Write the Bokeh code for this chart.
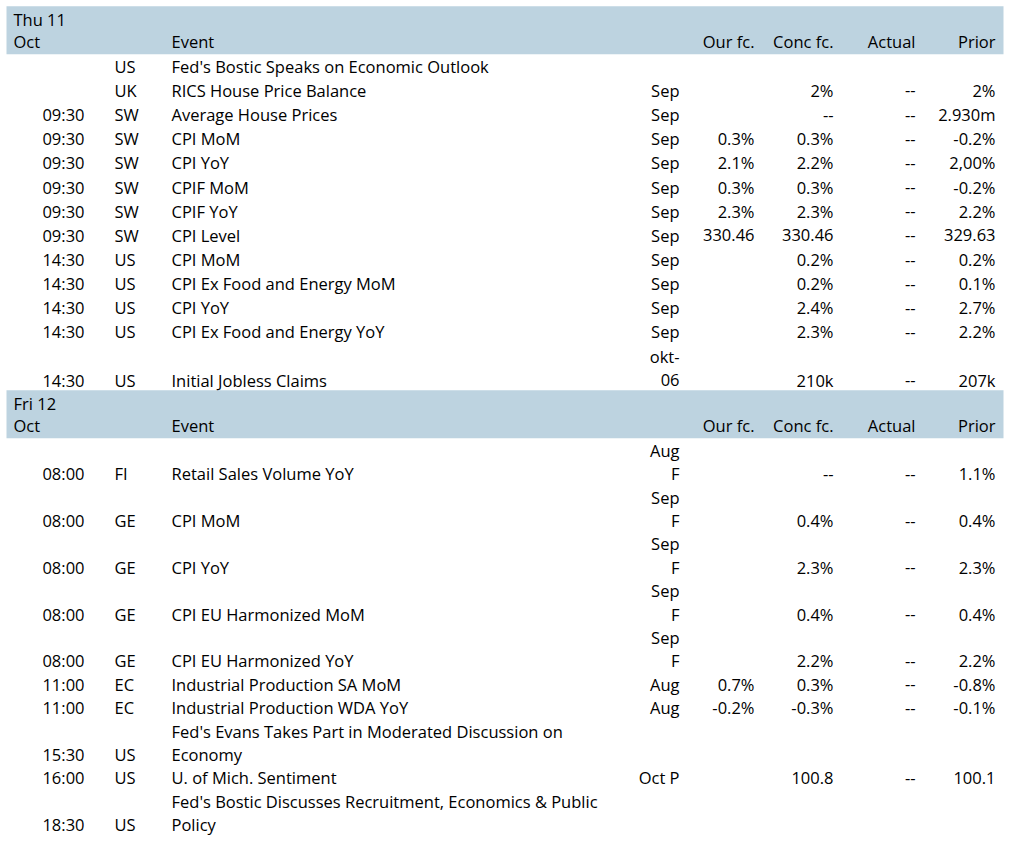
from bokeh.plotting import figure
from bokeh.models import ColumnDataSource, Range1d
from bokeh.embed import file_html
from bokeh.resources import INLINE
from bokeh.core.properties import value

# ---------------- data ----------------
day_labels = ["Thu 11", "Fri 12"]
month_label = "Oct"
header_labels = ["Event", "Our fc.", "Conc fc.", "Actual", "Prior"]

thu_time = ["", "", "09:30", "09:30", "09:30", "09:30", "09:30", "09:30",
            "14:30", "14:30", "14:30", "14:30", "14:30"]
thu_country = ["US", "UK", "SW", "SW", "SW", "SW", "SW", "SW",
               "US", "US", "US", "US", "US"]
thu_event = ["Fed's Bostic Speaks on Economic Outlook", "RICS House Price Balance",
             "Average House Prices", "CPI MoM", "CPI YoY", "CPIF MoM", "CPIF YoY",
             "CPI Level", "CPI MoM", "CPI Ex Food and Energy MoM", "CPI YoY",
             "CPI Ex Food and Energy YoY", "Initial Jobless Claims"]
thu_period = ["", "Sep", "Sep", "Sep", "Sep", "Sep", "Sep", "Sep", "Sep", "Sep",
              "Sep", "Sep", "okt-\n06"]
thu_our = ["", "", "", "0.3%", "2.1%", "0.3%", "2.3%", "330.46", "", "", "", "", ""]
thu_conc = ["", "2%", "--", "0.3%", "2.2%", "0.3%", "2.3%", "330.46", "0.2%",
            "0.2%", "2.4%", "2.3%", "210k"]
thu_actual = ["", "--", "--", "--", "--", "--", "--", "--", "--", "--", "--", "--", "--"]
thu_prior = ["", "2%", "2.930m", "-0.2%", "2,00%", "-0.2%", "2.2%", "329.63",
             "0.2%", "0.1%", "2.7%", "2.2%", "207k"]

fri_time = ["08:00", "08:00", "08:00", "08:00", "08:00", "11:00", "11:00",
            "15:30", "16:00", "18:30"]
fri_country = ["FI", "GE", "GE", "GE", "GE", "EC", "EC", "US", "US", "US"]
fri_event = ["Retail Sales Volume YoY", "CPI MoM", "CPI YoY", "CPI EU Harmonized MoM",
             "CPI EU Harmonized YoY", "Industrial Production SA MoM",
             "Industrial Production WDA YoY",
             "Fed's Evans Takes Part in Moderated Discussion on\nEconomy",
             "U. of Mich. Sentiment",
             "Fed's Bostic Discusses Recruitment, Economics & Public\nPolicy"]
fri_period = ["Aug\nF", "Sep\nF", "Sep\nF", "Sep\nF", "Sep\nF", "Aug", "Aug", "",
              "Oct P", ""]
fri_our = ["", "", "", "", "", "0.7%", "-0.2%", "", "", ""]
fri_conc = ["--", "0.4%", "2.3%", "0.4%", "2.2%", "0.3%", "-0.3%", "", "100.8", ""]
fri_actual = ["--", "--", "--", "--", "--", "--", "--", "", "--", ""]
fri_prior = ["1.1%", "0.4%", "2.3%", "0.4%", "2.2%", "-0.8%", "-0.1%", "", "100.1", ""]

# ---------------- layout ----------------
FONT = "Open Sans"
FSIZE = "16.5px"
BAND = "#BDD3E0"
TXT = "#000000"
W, H = 1006, 835

# column anchors: (x, align)
COLS = [(84, "right"), (114, "left"), (171, "left"), (679, "right"),
        (754, "right"), (833, "right"), (915, "right"), (995, "right")]
HDR_COLS = [COLS[2], COLS[4], COLS[5], COLS[6], COLS[7]]

sections = [
    (day_labels[0], [thu_time, thu_country, thu_event, thu_period, thu_our,
                     thu_conc, thu_actual, thu_prior], 24.15),
    (day_labels[1], [fri_time, fri_country, fri_event, fri_period, fri_our,
                     fri_conc, fri_actual, fri_prior], 23.4),
]

left = dict(x=[], y=[], text=[])
right = dict(x=[], y=[], text=[])
bands = dict(top=[], bottom=[])


def put(x, y, t, align):
    d = left if align == "left" else right
    d["x"].append(x)
    d["y"].append(y)
    d["text"].append(t)


b0 = 19.0
for day, cols, pitch in sections:
    bands["top"].append(b0 - 13.3)
    bands["bottom"].append(b0 + 34.7)
    put(13, b0, day, "left")
    put(13, b0 + 22.0, month_label, "left")
    for (x, al), lab in zip(HDR_COLS, header_labels):
        put(x, b0 + 22.0, lab, al)
    line = 0
    base = b0 + 46.8
    nrows = len(cols[0])
    for r in range(nrows):
        cells = [c[r].split("\n") if c[r] else [] for c in cols]
        n = max(1, max(len(c) for c in cells))
        for (x, al), lines in zip(COLS, cells):
            off = n - len(lines)
            for k, t in enumerate(lines):
                put(x, base + (line + off + k) * pitch, t, al)
        line += n
    b0 = base + (line - 1) * pitch + 23.3

p = figure(width=W, height=H, output_backend="svg", toolbar_location=None,
           x_range=Range1d(0, W), y_range=Range1d(H, 0),
           x_axis_type=None, y_axis_type=None, min_border=0,
           background_fill_color="white", border_fill_color="white")
p.outline_line_color = None
p.grid.visible = False

p.quad(left=6, right=1003, top="top", bottom="bottom",
       source=ColumnDataSource(bands), fill_color=BAND, line_color=None)

for d, al in ((left, "left"), (right, "right")):
    p.text(x="x", y="y", text="text", source=ColumnDataSource(d),
           text_font=value(FONT), text_font_size=FSIZE, text_color=TXT,
           text_align=al, text_baseline="middle")

open("out.html", "w").write(file_html(p, INLINE))
